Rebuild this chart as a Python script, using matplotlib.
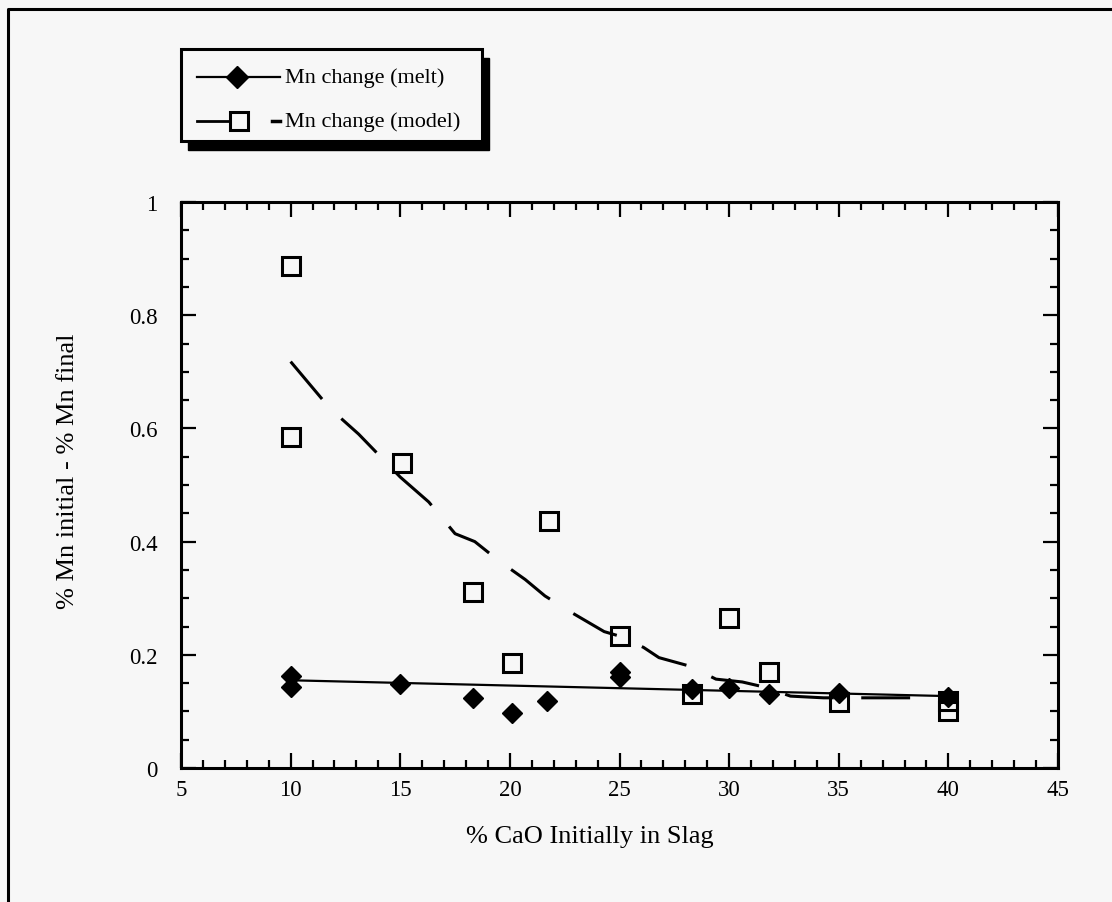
import matplotlib
matplotlib.use("Agg")
import matplotlib.pyplot as plt
from matplotlib.lines import Line2D
from matplotlib.patches import Rectangle
from matplotlib.ticker import MultipleLocator, FixedLocator, FixedFormatter

BG = "#f7f7f7"
plt.rcParams["font.family"] = ["Liberation Serif", "DejaVu Serif"]

# measured data, melt
melt_x = [10, 10, 15, 18.3, 20.1, 21.7, 25, 25, 28.3, 30, 31.8, 35, 40]
melt_y = [0.163, 0.143, 0.148, 0.124, 0.097, 0.119, 0.170, 0.160, 0.140, 0.142, 0.131, 0.132, 0.125]

# model predictions
model_x = [10, 10, 15.1, 18.3, 20.1, 21.8, 25, 28.3, 30, 31.8, 35, 40, 40]
model_y = [0.887, 0.585, 0.538, 0.311, 0.185, 0.437, 0.233, 0.131, 0.265, 0.170, 0.117, 0.101, 0.118]

# linear fit through the melt data
melt_fit_x = [10, 40]
melt_fit_y = [0.155, 0.127]

# curve traced along the model points
model_trend_x = [10, 11.8, 13.1, 15.0, 16.3, 17.5, 18.4, 19.5, 20.7, 21.6, 22.8, 24.3,
                 25.0, 26.1, 26.8, 28.2, 29.4, 30.6, 31.6, 32.8, 34.3, 36.0, 38.3]
model_trend_y = [0.718, 0.635, 0.590, 0.514, 0.470, 0.414, 0.400, 0.366, 0.333, 0.304, 0.275, 0.241,
                 0.233, 0.213, 0.195, 0.180, 0.157, 0.152, 0.143, 0.127, 0.124, 0.124, 0.124]

y_ticks = [0, 0.2, 0.4, 0.6, 0.8, 1.0]
y_labels = ["0", "0.2", "0.4", "0.6", "0.8", "1"]
x_ticks = [5, 10, 15, 20, 25, 30, 35, 40, 45]

W, H = 1112, 903
fig = plt.figure(figsize=(W / 100, H / 100), dpi=100)
fig.patch.set_facecolor(BG)
ax = fig.add_axes([181 / W, 1 - 769 / H, (1058 - 181) / W, (769 - 203) / H])
ax.set_facecolor(BG)

ax.plot(melt_fit_x, melt_fit_y, color="black", lw=1.6)
ax.plot(model_trend_x, model_trend_y, color="black", lw=2.2, linestyle=(0, (16, 9)))
ax.plot(melt_x, melt_y, "D", color="black", markersize=10, linestyle="none")
ax.plot(model_x, model_y, "s", markerfacecolor="none", markeredgecolor="black",
        markeredgewidth=2.2, markersize=13, linestyle="none")

ax.set_xlim(5, 45)
ax.set_ylim(0, 1)
ax.xaxis.set_major_locator(FixedLocator(x_ticks))
ax.xaxis.set_minor_locator(MultipleLocator(1))
ax.yaxis.set_major_locator(FixedLocator(y_ticks))
ax.yaxis.set_major_formatter(FixedFormatter(y_labels))
ax.yaxis.set_minor_locator(MultipleLocator(0.05))
ax.tick_params(which="both", direction="in", top=True, right=True, width=1.6, labelsize=16.5)
ax.tick_params(which="major", length=11)
ax.tick_params(which="minor", length=5.5)
ax.tick_params(axis="x", pad=8)
ax.tick_params(axis="y", pad=17)
for spine in ax.spines.values():
    spine.set_linewidth(2.2)

ax.set_xlabel("% CaO Initially in Slag", fontsize=19)
ax.xaxis.set_label_coords((590 - 181) / (1058 - 181), -(826 - 769) / (769 - 203))
ax.set_ylabel("% Mn initial - % Mn final", fontsize=19)
ax.yaxis.set_label_coords(-(181 - 79) / (1058 - 181), (769 - 471) / (769 - 203))


def fx(px):
    return px / W


def fy(py):
    return 1 - py / H


# legend box with solid shadow
lx0, lx1, ly0, ly1 = 181, 482, 50, 142
fig.patches.append(Rectangle((fx(lx0 + 7), fy(ly1 + 9)), fx(lx1 - lx0), (ly1 - ly0) / H,
                             transform=fig.transFigure, facecolor="black", edgecolor="black"))
fig.patches.append(Rectangle((fx(lx0), fy(ly1)), fx(lx1 - lx0), (ly1 - ly0) / H,
                             transform=fig.transFigure, facecolor=BG, edgecolor="black", lw=2.2))

fig.add_artist(Line2D([fx(197), fx(280)], [fy(78), fy(78)], color="black", lw=1.6))
fig.add_artist(Line2D([fx(237)], [fy(78)], marker="D", color="black", markersize=11))
fig.text(fx(285), fy(78), "Mn change (melt)", fontsize=16, va="center")

fig.add_artist(Line2D([fx(197), fx(230)], [fy(122), fy(122)], color="black", lw=2))
fig.add_artist(Line2D([fx(239)], [fy(122)], marker="s", markerfacecolor="none",
                      markeredgecolor="black", markeredgewidth=2.2, markersize=13))
fig.add_artist(Line2D([fx(272), fx(280)], [fy(122), fy(122)], color="black", lw=2.5))
fig.text(fx(285), fy(122), "Mn change (model)", fontsize=16, va="center")

# outer frame of the page (top and left edges only are visible)
fig.add_artist(Line2D([fx(8), fx(8), fx(1112)], [fy(903), fy(10), fy(10)],
                      color="black", lw=2.2))

fig.savefig("out.png", dpi=100, facecolor=BG)
